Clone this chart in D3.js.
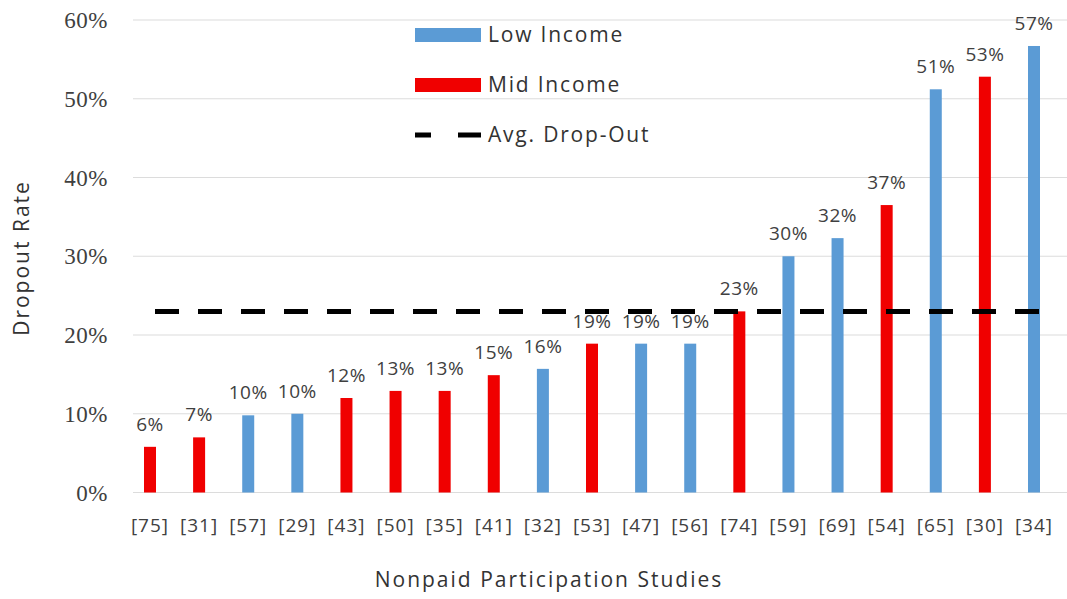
<!DOCTYPE html>
<html>
<head>
<meta charset="utf-8">
<script src="https://cdn.jsdelivr.net/npm/d3@7"></script>
<style>
  body { margin: 0; background: #fff; }
  svg text { fill: #333; }
</style>
</head>
<body>
<svg id="chart" width="1067" height="599"></svg>
<script>
// studies, in display order
const studies = ["[75]", "[31]", "[57]", "[29]", "[43]", "[50]", "[35]", "[41]", "[32]", "[53]",
                 "[47]", "[56]", "[74]", "[59]", "[69]", "[54]", "[65]", "[30]", "[34]"];
const dropout = [0.058, 0.07, 0.098, 0.10, 0.12, 0.129, 0.129, 0.149, 0.157, 0.189,
                 0.189, 0.189, 0.23, 0.30, 0.323, 0.365, 0.512, 0.528, 0.567];
const labels  = ["6%", "7%", "10%", "10%", "12%", "13%", "13%", "15%", "16%", "19%",
                 "19%", "19%", "23%", "30%", "32%", "37%", "51%", "53%", "57%"];
const income  = ["Mid", "Mid", "Low", "Low", "Mid", "Mid", "Mid", "Mid", "Low", "Mid",
                 "Low", "Low", "Mid", "Low", "Low", "Mid", "Low", "Mid", "Low"];
const avgDropout = 0.23;
const yTicks = [0, 0.1, 0.2, 0.3, 0.4, 0.5, 0.6];

const colors = { Low: "#5b9bd5", Mid: "#f00000" };
const sans = "'Open Sans', sans-serif";

const svg = d3.select("#chart");

const x = d3.scalePoint()
    .domain(studies)
    .range([150, 1034]);

const y = d3.scaleLinear()
    .domain([0, 0.6])
    .range([492.5, 20]);

const barWidth = 12;

// gridlines
svg.append("g")
    .selectAll("line")
    .data(yTicks)
    .join("line")
        .attr("x1", 133)
        .attr("x2", 1067)
        .attr("y1", d => y(d))
        .attr("y2", d => y(d))
        .attr("stroke", "#dcdcdc")
        .attr("stroke-width", 1.2);

// y tick labels (serif, like the original)
svg.append("g")
    .selectAll("text")
    .data(yTicks)
    .join("text")
        .attr("x", 108)
        .attr("y", d => y(d))
        .attr("dy", "0.35em")
        .attr("text-anchor", "end")
        .style("font-family", "'Liberation Serif', serif")
        .style("font-size", "23px")
        .style("letter-spacing", "0.5px")
        .style("fill", "#404040")
        .text(d => d3.format(".0%")(d));

// bars
const data = studies.map((s, i) => ({ s: s, v: dropout[i], lab: labels[i], inc: income[i] }));

svg.append("g")
    .selectAll("rect")
    .data(data)
    .join("rect")
        .attr("x", d => x(d.s) - barWidth / 2)
        .attr("width", barWidth)
        .attr("y", d => y(d.v))
        .attr("height", d => y(0) - y(d.v))
        .attr("fill", d => colors[d.inc]);

// value labels
svg.append("g")
    .selectAll("text")
    .data(data)
    .join("text")
        .attr("x", d => x(d.s))
        .attr("y", d => y(d.v) - 16)
        .attr("text-anchor", "middle")
        .style("font-family", sans)
        .style("font-size", "19px")
        .style("letter-spacing", "0.5px")
        .style("fill", "#404040")
        .text(d => d.lab);

// average line
svg.append("line")
    .attr("x1", 155)
    .attr("x2", 1042)
    .attr("y1", y(avgDropout))
    .attr("y2", y(avgDropout))
    .attr("stroke", "#000")
    .attr("stroke-width", 5)
    .attr("stroke-dasharray", "24,19");

// x tick labels
svg.append("g")
    .selectAll("text")
    .data(studies)
    .join("text")
        .attr("x", d => x(d))
        .attr("y", 532)
        .attr("text-anchor", "middle")
        .style("font-family", sans)
        .style("font-size", "19px")
        .style("letter-spacing", "1px")
        .style("fill", "#404040")
        .text(d => d);

// axis titles
svg.append("text")
    .attr("transform", "translate(29,258) rotate(-90)")
    .attr("text-anchor", "middle")
    .style("font-family", sans)
    .style("font-size", "21px")
    .style("letter-spacing", "2px")
    .text("Dropout Rate");

svg.append("text")
    .attr("x", 549)
    .attr("y", 587)
    .attr("text-anchor", "middle")
    .style("font-family", sans)
    .style("font-size", "21px")
    .style("letter-spacing", "2px")
    .text("Nonpaid Participation Studies");

// legend
const legendItems = [
    { name: "Low Income", type: "bar", color: colors.Low, y: 35 },
    { name: "Mid Income", type: "bar", color: colors.Mid, y: 85 },
    { name: "Avg. Drop-Out", type: "line", color: "#000", y: 135 }
];

const legend = svg.append("g");

legend.selectAll("rect")
    .data(legendItems.filter(d => d.type === "bar"))
    .join("rect")
        .attr("x", 415)
        .attr("y", d => d.y - 7)
        .attr("width", 66)
        .attr("height", 14)
        .attr("fill", d => d.color);

legend.selectAll("line")
    .data(legendItems.filter(d => d.type === "line"))
    .join("line")
        .attr("x1", 415)
        .attr("x2", 481)
        .attr("y1", d => d.y)
        .attr("y2", d => d.y)
        .attr("stroke", d => d.color)
        .attr("stroke-width", 5)
        .attr("stroke-dasharray", "16,27,23");

legend.selectAll("text")
    .data(legendItems)
    .join("text")
        .attr("x", 488)
        .attr("y", d => d.y + 7)
        .style("font-family", sans)
        .style("font-size", "21px")
        .style("letter-spacing", "1.8px")
        .style("fill", "#333")
        .text(d => d.name);
</script>
</body>
</html>
